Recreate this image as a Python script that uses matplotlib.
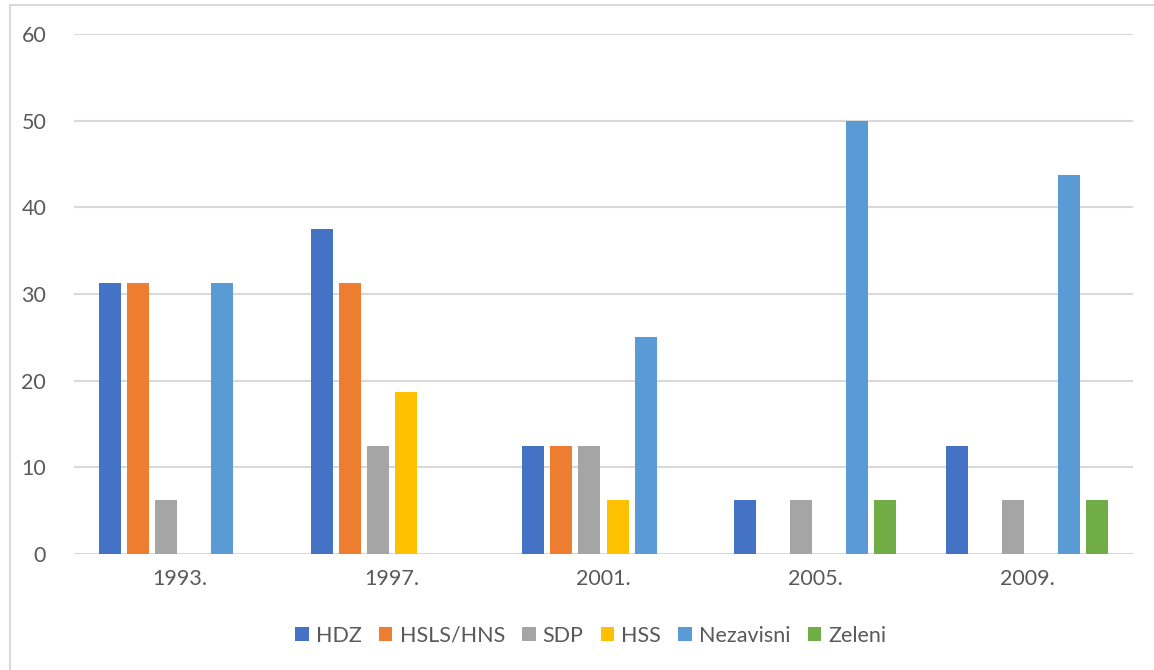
import numpy as np
import matplotlib.pyplot as plt
from matplotlib.lines import Line2D
from matplotlib.patches import Patch

plt.rcParams['font.family'] = ['Lato', 'DejaVu Sans']

# data
years = ['1993.', '1997.', '2001.', '2005.', '2009.']
parties = ['HDZ', 'HSLS/HNS', 'SDP', 'HSS', 'Nezavisni', 'Zeleni']
hdz = [31.25, 37.5, 12.5, 6.25, 12.5]
hsls_hns = [31.25, 31.25, 12.5, 0, 0]
sdp = [6.25, 12.5, 12.5, 6.25, 6.25]
hss = [0, 18.75, 6.25, 0, 0]
nezavisni = [31.25, 0, 25, 50, 43.75]
zeleni = [0, 0, 0, 6.25, 6.25]
series = [hdz, hsls_hns, sdp, hss, nezavisni, zeleni]
colors = ['#4472C4', '#ED7D31', '#A5A5A5', '#FFC000', '#5B9BD5', '#70AD47']

text_col = '#595959'
grid_col = '#D9D9D9'

fig = plt.figure(figsize=(11.54, 6.7), dpi=100)
ax = fig.add_axes([74 / 1154, (670 - 554) / 670, (1133 - 74) / 1154, 520 / 670])

x = np.arange(len(years))
pitch = 28 / 211.6
width = 22 / 211.6
for i, (vals, c) in enumerate(zip(series, colors)):
    ax.bar(x + (i - 2.5) * pitch, vals, width, color=c, zorder=3)

ax.set_xlim(-0.5, len(years) - 0.5)
ax.set_ylim(0, 60)
ax.set_yticks(range(0, 61, 10))
ax.set_xticks(x)
ax.set_xticklabels(years)
ax.yaxis.grid(True, color=grid_col, linewidth=1.5, zorder=0)
ax.tick_params(axis='both', length=0, labelsize=15.5, colors=text_col)
ax.tick_params(axis='y', pad=20)
ax.tick_params(axis='x', pad=11)
for s in ax.spines.values():
    s.set_visible(False)

handles = [Patch(facecolor=c, edgecolor='none') for c in colors]
fig.legend(handles, parties, loc='center', bbox_to_anchor=(0.512, 1 - 636 / 670),
           ncol=6, frameon=False, fontsize=15.5, handlelength=0.63, handleheight=0.63,
           handletextpad=0.33, columnspacing=0.8, labelcolor=text_col)

# outer chart border (top and left visible)
fig.add_artist(Line2D([9.5 / 1154, 9.5 / 1154], [0, 1 - 5 / 670],
                      transform=fig.transFigure, color=grid_col, linewidth=1.5))
fig.add_artist(Line2D([9.5 / 1154, 1], [1 - 5 / 670, 1 - 5 / 670],
                      transform=fig.transFigure, color=grid_col, linewidth=1.5))

fig.savefig('out.png', dpi=100)
